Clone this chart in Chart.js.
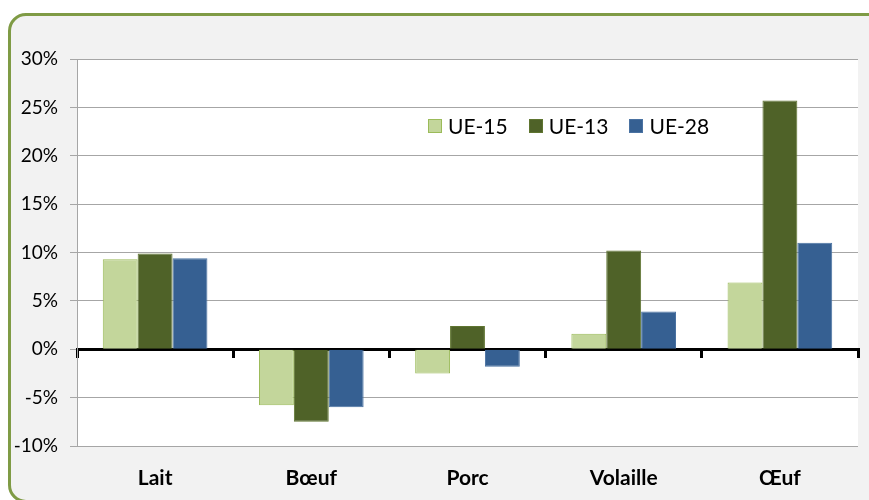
<!DOCTYPE html>
<html>
<head>
<meta charset="utf-8">
<script src="https://cdn.jsdelivr.net/npm/chart.js@4.4.1/dist/chart.umd.min.js"></script>
<style>
  html, body { margin: 0; padding: 0; background: #fff; }
  #frame {
    position: absolute; left: 8px; top: 13px; width: 880px; height: 484px;
    background: #f2f2f2; border: 3px solid #7f9b45; border-radius: 18px;
  }
  #wrap { position: absolute; left: 0; top: 0; width: 869px; height: 500px; }
  #legend {
    position: absolute; left: 428px; top: 113px; display: flex; align-items: center;
    font-family: Lato, "Open Sans", sans-serif; font-size: 21px; color: #000;
  }
  #legend .item { display: flex; align-items: center; margin-right: 21px; }
  #legend .box { width: 14px; height: 14px; box-sizing: border-box; margin-right: 6px; }
</style>
</head>
<body>
<div id="frame"></div>
<div id="wrap"><canvas id="chart"></canvas></div>
<div id="legend"></div>
<script>
// catégories et séries (en %)
const categories = ["Lait", "Bœuf", "Porc", "Volaille", "Œuf"];
const ue15 = [9.3, -5.8, -2.5, 1.6, 6.9];
const ue13 = [9.9, -7.5, 2.4, 10.2, 25.7];
const ue28 = [9.4, -6.0, -1.8, 3.9, 11.0];
const yTicks = [-10, -5, 0, 5, 10, 15, 20, 25, 30];

const font = "Lato, 'Open Sans', sans-serif";

// fond blanc de la zone de tracé
const plotBg = {
    id: "plotBg",
    beforeDraw(chart) {
        const a = chart.chartArea;
        const ctx = chart.ctx;
        ctx.save();
        ctx.fillStyle = "#ffffff";
        ctx.fillRect(a.left, a.top, a.right - a.left, a.bottom - a.top);
        ctx.restore();
    }
};

const chart = new Chart(document.getElementById("chart"), {
    type: "bar",
    data: {
        labels: categories,
        datasets: [
            { label: "UE-15", data: ue15, backgroundColor: "#c3d69b", borderColor: "#9bbb59", borderWidth: 1 },
            { label: "UE-13", data: ue13, backgroundColor: "#4f6228", borderColor: "#5f7530", borderWidth: 1 },
            { label: "UE-28", data: ue28, backgroundColor: "#366092", borderColor: "#4a72a2", borderWidth: 1 }
        ]
    },
    options: {
        responsive: true,
        maintainAspectRatio: false,
        animation: false,
        layout: { padding: { top: 59, right: 11, left: 0, bottom: 0 } },
        datasets: { bar: { barPercentage: 1, categoryPercentage: 0.67 } },
        plugins: {
            legend: { display: false },
            tooltip: { enabled: false }
        },
        scales: {
            x: {
                grid: { display: false, drawTicks: false },
                border: { display: false },
                ticks: {
                    color: "#000",
                    padding: 20,
                    font: { family: font, size: 21, weight: "bold" }
                },
                afterFit(scale) { scale.height = 54; }
            },
            x2: {
                type: "category",
                labels: categories,
                position: { y: 0 },
                offset: true,
                z: 1,
                grid: { offset: true, drawOnChartArea: false, drawTicks: true, tickLength: 7, color: "#000", lineWidth: 3 },
                border: { color: "#000", width: 3 },
                ticks: { display: false }
            },
            y: {
                min: -10,
                max: 30,
                afterBuildTicks(scale) { scale.ticks = yTicks.map(v => ({ value: v })); },
                grid: { color: "#a6a6a6", lineWidth: 1, tickLength: 7 },
                border: { color: "#a6a6a6", width: 1 },
                ticks: {
                    color: "#000",
                    padding: 12,
                    font: { family: font, size: 19 },
                    callback: (v) => v + "%"
                },
                afterFit(scale) { scale.width = 77; }
            }
        }
    },
    plugins: [plotBg]
});

// légende HTML
const legend = document.getElementById("legend");
chart.data.datasets.forEach(ds => {
    const item = document.createElement("div");
    item.className = "item";
    const box = document.createElement("span");
    box.className = "box";
    box.style.background = ds.backgroundColor;
    box.style.border = "1.5px solid " + ds.borderColor;
    item.appendChild(box);
    item.appendChild(document.createTextNode(ds.label));
    legend.appendChild(item);
});
</script>
</body>
</html>
